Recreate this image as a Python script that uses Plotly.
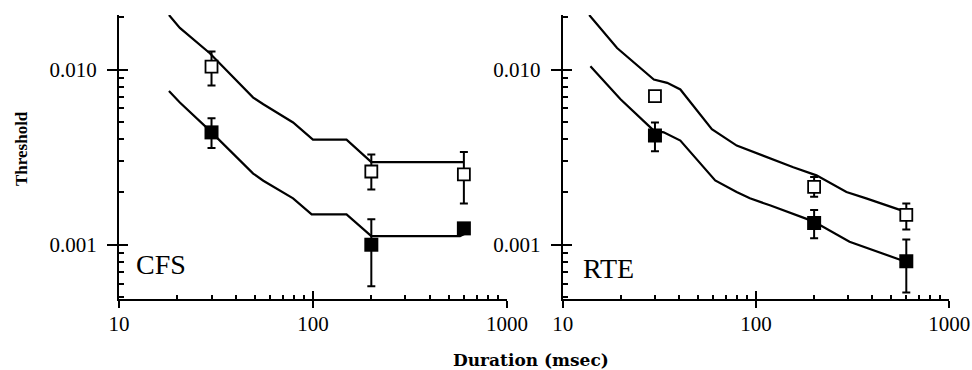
import math
import plotly.graph_objects as go

# ---------------- data ----------------
durations = [30, 200, 600]

cfs_open = [0.0104, 0.00262, 0.00252]
cfs_open_hi = [0.0127, 0.00327, 0.00338]
cfs_open_lo = [0.0081, 0.00207, 0.00172]
cfs_filled = [0.00438, 0.00100, 0.00124]
cfs_filled_hi = [0.00528, 0.00140, 0.00128]
cfs_filled_lo = [0.00357, 0.00058, 0.00120]

cfs_model_upper_x = [18.1, 20.6, 29.4, 49.2, 55.5, 79, 100, 149, 200, 600]
cfs_model_upper_y = [0.0205, 0.0173, 0.0124, 0.00692, 0.00634, 0.00499, 0.00398, 0.00398, 0.00296, 0.00296]
cfs_model_lower_x = [18.1, 20.6, 29.4, 49.2, 55.5, 79, 98.5, 149, 200, 573, 610]
cfs_model_lower_y = [0.00754, 0.00648, 0.00448, 0.00255, 0.00232, 0.00184, 0.00149, 0.00149, 0.00112, 0.00112, 0.00116]

rte_open = [0.00706, 0.00214, 0.00148]
rte_open_hi = [0.0073, 0.00244, 0.00172]
rte_open_lo = [0.0068, 0.00188, 0.00122]
rte_filled = [0.00421, 0.00133, 0.000805]
rte_filled_hi = [0.00499, 0.00158, 0.00107]
rte_filled_lo = [0.00342, 0.00109, 0.000533]

rte_model_upper_x = [13.7, 19.1, 29.6, 34.7, 40.6, 59.1, 79.5, 113.5, 156, 205.6, 294, 372, 586]
rte_model_upper_y = [0.0205, 0.01327, 0.00878, 0.0084, 0.0077, 0.00457, 0.00368, 0.00316, 0.00277, 0.00249, 0.0020, 0.00184, 0.00155]
rte_model_lower_x = [13.9, 19.9, 29.6, 33.3, 40.6, 61.5, 79.4, 93, 118, 198, 305, 586]
rte_model_lower_y = [0.01044, 0.00677, 0.00448, 0.00438, 0.00393, 0.00233, 0.0020, 0.00184, 0.00168, 0.00136, 0.00104, 0.000805]

x_major = [10, 100, 1000]
x_major_text = ["10", "100", "1000"]
x_minor = [20, 30, 40, 50, 60, 70, 80, 90, 200, 300, 400, 500, 600, 700, 800, 900]
y_major = [0.001, 0.01]
y_major_text = ["0.001", "0.010"]
y_minor = [0.0005, 0.0006, 0.0007, 0.0008, 0.0009, 0.002, 0.003, 0.004, 0.005, 0.006, 0.007, 0.008, 0.009, 0.02]

panel_labels = ["CFS", "RTE"]
x_title = "Duration (msec)"
y_title = "Threshold"

FONT = "Liberation Serif"
X_RANGE = [1, 3.0005]
Y_RANGE = [math.log10(0.00049), math.log10(0.0205)]

fig = go.Figure()

def add_panel(n, ux, uy, lx, ly, op, op_hi, op_lo, fi, fi_hi, fi_lo):
    xa, ya = ("x", "y") if n == 1 else ("x2", "y2")
    for mx, my in ((ux, uy), (lx, ly)):
        fig.add_trace(go.Scatter(x=mx, y=my, mode="lines", xaxis=xa, yaxis=ya,
                                 line=dict(color="black", width=2.2), showlegend=False))
    fig.add_trace(go.Scatter(
        x=durations, y=op, mode="markers", xaxis=xa, yaxis=ya, showlegend=False,
        marker=dict(symbol="square", size=12, color="white", line=dict(color="black", width=1.8)),
        error_y=dict(type="data", symmetric=False,
                     array=[h - v for h, v in zip(op_hi, op)],
                     arrayminus=[v - l for v, l in zip(op, op_lo)],
                     color="black", thickness=2, width=4)))
    fig.add_trace(go.Scatter(
        x=durations, y=fi, mode="markers", xaxis=xa, yaxis=ya, showlegend=False,
        marker=dict(symbol="square", size=14, color="black", line=dict(color="black", width=0)),
        error_y=dict(type="data", symmetric=False,
                     array=[h - v for h, v in zip(fi_hi, fi)],
                     arrayminus=[v - l for v, l in zip(fi, fi_lo)],
                     color="black", thickness=2, width=4)))

add_panel(1, cfs_model_upper_x, cfs_model_upper_y, cfs_model_lower_x, cfs_model_lower_y,
          cfs_open, cfs_open_hi, cfs_open_lo, cfs_filled, cfs_filled_hi, cfs_filled_lo)
add_panel(2, rte_model_upper_x, rte_model_upper_y, rte_model_lower_x, rte_model_lower_y,
          rte_open, rte_open_hi, rte_open_lo, rte_filled, rte_filled_hi, rte_filled_lo)

# empty traces so the overlay axes (inner halves of the tick marks) are drawn
for xa, ya in (("x3", "y3"), ("x4", "y4"), ("x5", "y5"), ("x6", "y6")):
    fig.add_trace(go.Scatter(x=[None], y=[None], mode="markers", xaxis=xa, yaxis=ya,
                             showlegend=False, hoverinfo="skip"))

tickfont = dict(family=FONT, size=21, color="black")

def xax(domain, anchor):
    return dict(type="log", range=X_RANGE, domain=domain, anchor=anchor,
                showline=True, linecolor="black", linewidth=2, mirror=False,
                showgrid=False, zeroline=False,
                tickmode="array", tickvals=x_major, ticktext=x_major_text,
                ticks="outside", ticklen=7, tickwidth=2, tickcolor="black",
                tickfont=tickfont, automargin=False, ticklabelstandoff=-2,
                ticklabeloverflow="allow")

def yax(domain, anchor):
    return dict(type="log", range=Y_RANGE, domain=domain, anchor=anchor,
                showline=True, linecolor="black", linewidth=2, mirror=False,
                showgrid=False, zeroline=False,
                tickmode="array", tickvals=y_major, ticktext=y_major_text,
                ticks="outside", ticklen=10, tickwidth=2, tickcolor="black",
                tickfont=tickfont, automargin=False, ticklabelstandoff=6)

def x_inner(over, anchor):
    return dict(type="log", range=X_RANGE, overlaying=over, anchor=anchor,
                showline=False, showgrid=False, zeroline=False, showticklabels=False,
                tickmode="array", tickvals=x_major, ticks="inside", ticklen=8,
                tickwidth=2, tickcolor="black",
                minor=dict(tickmode="array", tickvals=x_minor, ticks="inside",
                           ticklen=4, tickwidth=1.5, tickcolor="black", showgrid=False))

def y_inner(over, anchor):
    return dict(type="log", range=Y_RANGE, overlaying=over, anchor=anchor,
                showline=False, showgrid=False, zeroline=False, showticklabels=False,
                tickmode="array", tickvals=y_major, ticks="inside", ticklen=9,
                tickwidth=2, tickcolor="black",
                minor=dict(tickmode="array", tickvals=y_minor, ticks="inside",
                           ticklen=5, tickwidth=1.5, tickcolor="black", showgrid=False))

YD = [0.1919, 0.9595]
fig.update_layout(
    width=972, height=370,
    margin=dict(l=0, r=0, t=0, b=0),
    paper_bgcolor="white", plot_bgcolor="white",
    font=dict(family=FONT, color="black"),
    xaxis=xax([0.1224, 0.5216], "y"),
    yaxis=yax(YD, "x"),
    xaxis2=xax([0.5790, 0.9766], "y2"),
    yaxis2=yax(YD, "x2"),
    xaxis3=x_inner("x", "y"),
    yaxis3=dict(type="log", range=Y_RANGE, overlaying="y", anchor="x", visible=False),
    xaxis4=dict(type="log", range=X_RANGE, overlaying="x", anchor="y", visible=False),
    yaxis4=y_inner("y", "x"),
    xaxis5=x_inner("x2", "y2"),
    yaxis5=dict(type="log", range=Y_RANGE, overlaying="y2", anchor="x2", visible=False),
    xaxis6=dict(type="log", range=X_RANGE, overlaying="x2", anchor="y2", visible=False),
    yaxis6=y_inner("y2", "x2"),
    showlegend=False,
)

fig.add_annotation(text=panel_labels[0], xref="x domain", yref="y domain", x=0.038, y=0.123,
                   xanchor="left", yanchor="middle", showarrow=False,
                   font=dict(family=FONT, size=28, color="black"))
fig.add_annotation(text=panel_labels[1], xref="x2 domain", yref="y2 domain", x=0.047, y=0.107,
                   xanchor="left", yanchor="middle", showarrow=False,
                   font=dict(family=FONT, size=28, color="black"))
fig.add_annotation(text="<b>" + y_title + "</b>", xref="paper", yref="paper", x=21 / 972, y=1 - 149 / 370,
                   xanchor="center", yanchor="middle", textangle=-90, showarrow=False,
                   font=dict(family=FONT, size=17, color="black"))
fig.add_annotation(text="<b>" + x_title + "</b>", xref="paper", yref="paper", x=531 / 972, y=1 - 360 / 370,
                   xanchor="center", yanchor="middle", showarrow=False,
                   font=dict(family="DejaVu Serif", size=17, color="black"))

fig.write_html("out.html")
